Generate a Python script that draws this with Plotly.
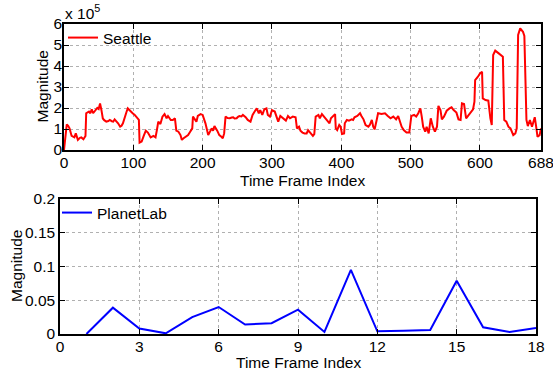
import plotly.graph_objects as go

# ---- Data ----
seattle_idx = [0, 2, 4, 6, 8, 11, 13, 15, 17, 20, 23, 25, 28, 31, 32, 36, 38, 40, 42, 44, 46, 48, 50, 52, 54, 56, 58,
               61, 64, 66, 69, 71, 73, 76, 78, 81, 83, 85, 88, 90, 92, 95, 99, 102, 105, 108, 109, 112, 115, 118, 121,
               125, 129, 132, 134, 136, 139, 142, 145, 148, 150, 154, 157, 160, 162, 165, 168, 170, 172, 174, 177, 179,
               182, 185, 186, 189, 191, 193, 197, 200, 202, 204, 208, 210, 213, 215, 217, 221, 224, 227, 229, 231, 233,
               236, 239, 242, 244, 246, 249, 251, 253, 256, 258, 262, 265, 269, 272, 275, 278, 281, 283, 286, 289, 292,
               294, 297, 300, 304, 306, 309, 312, 316, 320, 323, 326, 330, 334, 336, 339, 341, 344, 347, 350, 352, 356,
               359, 361, 363, 367, 369, 372, 375, 379, 383, 385, 388, 391, 392, 394, 397, 399, 401, 404, 405, 408, 411,
               415, 417, 419, 423, 427, 429, 432, 435, 439, 441, 444, 446, 448, 451, 453, 458, 463, 467, 471, 475, 479,
               482, 484, 487, 490, 494, 498, 501, 505, 508, 511, 514, 516, 518, 521, 523, 526, 529, 532, 535, 538, 540,
               543, 545, 548, 552, 556, 559, 562, 566, 569, 572, 574, 577, 580, 584, 587, 590, 592, 593, 597, 600, 603,
               604, 608, 612, 615, 617, 619, 622, 627, 633, 635, 638, 641, 644, 648, 651, 653, 655, 658, 662, 664, 667,
               669, 672, 675, 679, 681, 683, 686, 688]
seattle_e5 = [0, 0.6, 1.22, 1.15, 1.03, 0.67, 0.62, 0.6, 0.79, 0.48, 0.58, 0.6, 0.51, 0.67, 1.75, 1.83, 1.75, 1.94, 1.75,
              1.85, 1.9, 2.0, 1.95, 2.22, 1.9, 1.5, 1.42, 1.35, 1.38, 1.43, 1.37, 1.35, 1.46, 1.36, 1.27, 1.11, 1.15,
              1.27, 1.67, 1.8, 1.98, 1.87, 1.75, 1.67, 1.56, 1.43, 0.35, 0.4, 0.67, 0.92, 0.83, 0.6, 0.67, 0.6, 0.95,
              1.35, 1.24, 1.59, 1.71, 1.51, 1.62, 1.43, 1.43, 1.51, 0.92, 0.87, 0.71, 0.48, 0.55, 0.6, 0.65, 0.71,
              0.87, 1.03, 1.59, 1.43, 1.35, 1.62, 1.71, 1.67, 1.46, 1.27, 0.71, 0.87, 1.03, 0.92, 1.14, 0.92, 0.71,
              0.63, 0.56, 0.79, 1.59, 1.52, 1.51, 1.55, 1.56, 1.5, 1.51, 1.58, 1.62, 1.6, 1.67, 1.56, 1.43, 1.35, 1.67,
              1.83, 1.98, 1.75, 1.9, 1.67, 1.94, 1.98, 1.67, 1.59, 1.9, 1.83, 1.59, 1.35, 1.62, 1.51, 1.40, 1.62, 1.51,
              1.59, 1.56, 1.03, 1.11, 0.92, 0.83, 0.79, 0.79, 0.95, 0.76, 0.67, 0.76, 1.59, 1.67, 1.51, 1.71, 1.59,
              1.46, 1.27, 1.51, 1.62, 1.71, 1.03, 0.95, 1.19, 1.11, 0.76, 0.79, 1.27, 1.43, 1.40, 1.46, 1.43, 1.56,
              1.62, 1.75, 1.62, 1.46, 1.19, 1.11, 1.19, 1.43, 1.11, 0.98, 1.43, 1.75, 1.71, 1.75, 1.62, 1.51, 1.59,
              1.46, 1.62, 1.43, 1.11, 0.95, 0.83, 0.83, 1.62, 1.67, 1.59, 1.75, 1.98, 1.59, 1.11, 0.87, 1.11, 0.79,
              1.51, 1.11, 0.87, 1.11, 2.1, 1.9, 1.46, 1.59, 1.87, 1.98, 2.03, 1.9, 1.78, 1.46, 1.43, 2.22, 2.19, 1.51,
              1.67, 1.83, 1.94, 2.3, 3.33, 3.49, 3.65, 3.73, 2.46, 2.38, 2.35, 1.51, 1.19, 4.52, 4.73, 4.6, 4.44, 1.43,
              1.35, 1.11, 1.03, 0.71, 0.79, 1.03, 5.48, 5.79, 5.63, 5.43, 1.43, 1.14, 1.43, 1.11, 1.56, 1.11, 0.63,
              0.71, 1.03]
seattle_mag = [v * 1e5 for v in seattle_e5]

planet_idx = list(range(1, 19))
planet_mag = [0.0, 0.039, 0.008, 0.001, 0.025, 0.040, 0.014, 0.016, 0.036, 0.003,
              0.095, 0.004, 0.005, 0.006, 0.079, 0.010, 0.003, 0.009]

top_xticks = [0, 100, 200, 300, 400, 500, 600, 688]
top_yticks = [0, 1e5, 2e5, 3e5, 4e5, 5e5, 6e5]
top_yticklabels = ["0", "1", "2", "3", "4", "5", "6"]
bot_xticks = [0, 3, 6, 9, 12, 15, 18]
bot_yticks = [0, 0.05, 0.1, 0.15, 0.2]
bot_yticklabels = ["0", "0.05", "0.1", "0.15", "0.2"]

W, H = 553, 371
FONT = "Liberation Sans"
FS = 15.5

fig = go.Figure()
fig.add_trace(go.Scatter(x=seattle_idx, y=seattle_mag, mode="lines", name="Seattle", showlegend=True,
                         line=dict(color="#ff0000", width=2), xaxis="x", yaxis="y", legend="legend"))
fig.add_trace(go.Scatter(x=planet_idx, y=planet_mag, mode="lines", name="PlanetLab", showlegend=True,
                         line=dict(color="#0000ff", width=2), xaxis="x2", yaxis="y2", legend="legend2"))

axis_common = dict(showline=True, linecolor="black", linewidth=1.5, mirror="allticks",
                   ticks="inside", ticklen=5, tickcolor="black", tickwidth=1, automargin=False,
                   ticklabeloverflow="allow",
                   showgrid=True, gridcolor="#b0b0b0", griddash="dot", gridwidth=1,
                   zeroline=False, tickfont=dict(family=FONT, size=FS, color="black"))


def px_x(p):
    return p / W


def px_y(p):
    return 1 - p / H


title_font = dict(family=FONT, size=FS, color="black")

fig.update_layout(
    width=W, height=H, margin=dict(l=0, r=0, t=0, b=0, autoexpand=False),
    paper_bgcolor="white", plot_bgcolor="white", showlegend=True,
    font=dict(family=FONT, size=FS, color="black"),
    xaxis=dict(domain=[px_x(64), px_x(541)], range=[0, 688], tickvals=top_xticks, anchor="y",
               ticklabelstandoff=-2, **axis_common),
    yaxis=dict(domain=[px_y(150), px_y(24)], range=[0, 6e5], tickvals=top_yticks,
               ticktext=top_yticklabels, anchor="x", ticklabelstandoff=-3, **axis_common),
    xaxis2=dict(domain=[px_x(60), px_x(536)], range=[0, 18], tickvals=bot_xticks, anchor="y2",
                ticklabelstandoff=-2, **axis_common),
    yaxis2=dict(domain=[px_y(334), px_y(199)], range=[0, 0.2], tickvals=bot_yticks,
                ticktext=bot_yticklabels, anchor="x2", **axis_common),
    legend=dict(x=px_x(63), y=px_y(21), xanchor="left", yanchor="top", bgcolor="rgba(255,255,255,0)",
                font=dict(family=FONT, size=FS), borderwidth=0),
    legend2=dict(x=px_x(57), y=px_y(196), xanchor="left", yanchor="top", bgcolor="rgba(255,255,255,0)",
                 font=dict(family=FONT, size=FS), borderwidth=0),
    annotations=[
        dict(text="x 10<sup>5</sup>", x=px_x(63), y=px_y(24), xref="paper", yref="paper",
             xanchor="left", yanchor="bottom", showarrow=False, font=title_font),
        dict(text="Time Frame Index", x=px_x(302.5), y=px_y(180), xref="paper", yref="paper",
             xanchor="center", yanchor="middle", showarrow=False, font=title_font),
        dict(text="Time Frame Index", x=px_x(298), y=px_y(362), xref="paper", yref="paper",
             xanchor="center", yanchor="middle", showarrow=False, font=title_font),
        dict(text="Magnitude", x=px_x(42.5), y=px_y(87), xref="paper", yref="paper", textangle=-90,
             xanchor="center", yanchor="middle", showarrow=False, font=title_font),
        dict(text="Magnitude", x=px_x(16.5), y=px_y(266.5), xref="paper", yref="paper", textangle=-90,
             xanchor="center", yanchor="middle", showarrow=False, font=title_font),
    ],
)

fig.write_html("out.html")
